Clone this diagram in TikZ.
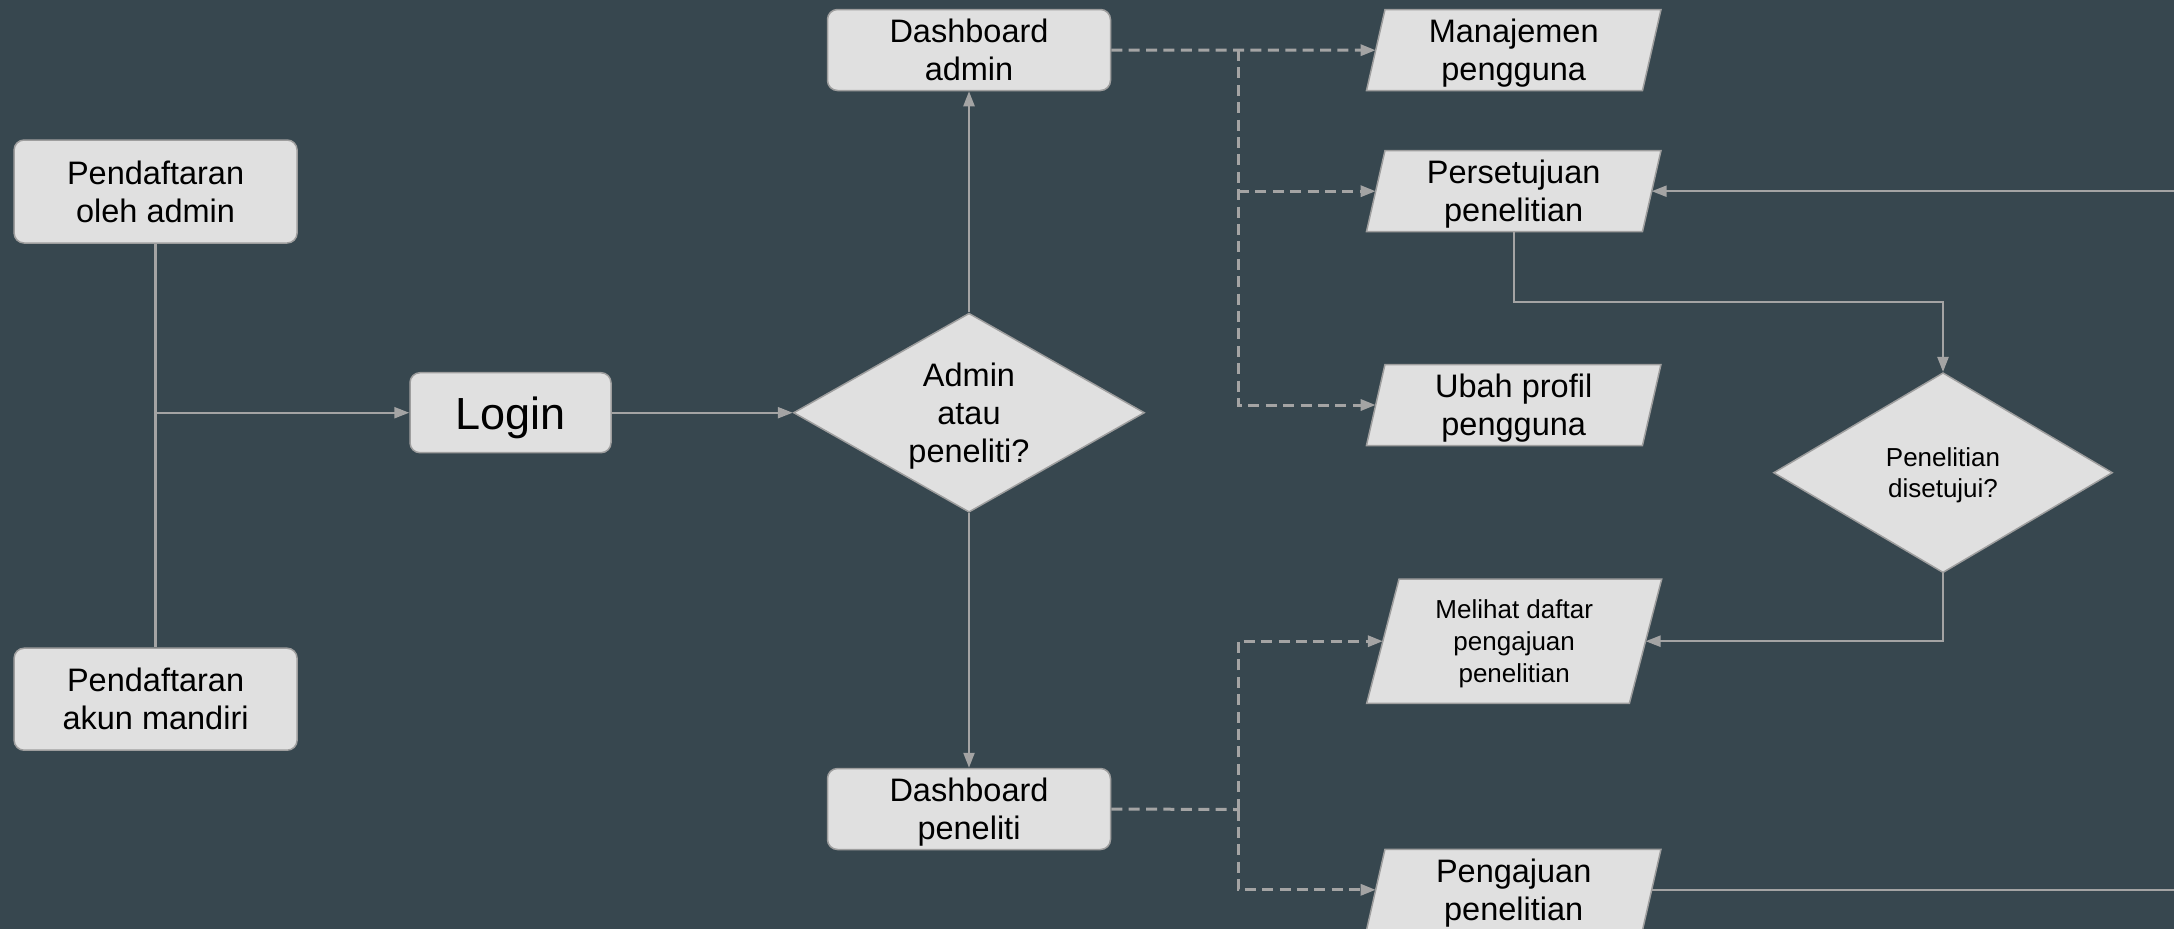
\documentclass[tikz,border=0pt]{standalone}
\usepackage{fontspec}
\setmainfont{Liberation Sans}
\usetikzlibrary{shapes.geometric,arrows.meta,calc}
\pgfdeclarelayer{back}
\pgfdeclarelayer{shapes}
\pgfsetlayers{back,shapes,main}
\definecolor{bgc}{HTML}{37474F}
\definecolor{nodefill}{HTML}{E0E0E0}
\definecolor{nodeline}{HTML}{9E9E9E}
\definecolor{linec}{HTML}{A4A4A4}
\newcommand\nodep[1]{\raisebox{0pt}[\height][0pt]{#1}}
\begin{document}
\begin{tikzpicture}[x=0.5pt,y=-0.5pt,
  txt/.style={font=\fontsize{16.25}{19}\selectfont, align=center, text=black, inner sep=0pt},
  smalltxt/.style={font=\fontsize{13}{15.85}\selectfont},
  rbox/.style={txt, draw=nodeline, fill=nodefill, line width=0.75pt, rounded corners=5pt,
               minimum width=141.5pt, minimum height=40.5pt},
  dia/.style={diamond, draw=nodeline, fill=nodefill, line width=0.75pt, inner sep=0pt},
  para/.style={txt, outer sep=0pt, minimum width=138pt, minimum height=40.5pt},
  parabox/.style={draw=nodeline, fill=nodefill, line width=0.75pt},
  conn/.style={draw=linec, line width=1.15pt},
  arr/.style={conn, -{Triangle[length=7.5pt,width=5.5pt]}},
  dashline/.style={draw=linec, line width=1.5pt, dash pattern=on 5.5pt off 3.2pt},
  darr/.style={dashline, -{Triangle[length=7.5pt,width=5.5pt]}}
]
\useasboundingbox (0,0) rectangle (2174,928);
\begin{pgfonlayer}{back}
  \fill[bgc] (-10,-10) rectangle (2184,938);
\end{pgfonlayer}

% nodes
\node[rbox, minimum height=51.5pt] (pA) at (155.6,191.5) {Pendaftaran\\\nodep{oleh admin}};
\node[rbox, minimum height=51pt] (pM) at (155.6,699.2) {Pendaftaran\\\nodep{akun mandiri}};
\node[rbox, minimum width=100.5pt, minimum height=40pt, font=\fontsize{22.5}{27}\selectfont] (login) at (510.5,412.7) {\nodep{Login}};
\node[dia, minimum width=175.5pt, minimum height=99.5pt] (q1) at (969,412.7) {};
\node[txt] (q1t) at (q1) {Admin\\atau\\\nodep{peneliti?}};
\node[rbox] (dA) at (969,50) {Dashboard\\\nodep{admin}};
\node[rbox] (dP) at (969,809) {Dashboard\\\nodep{peneliti}};
\node[para] (man) at (1513.7,50.2) {Manajemen\\\nodep{pengguna}};
\node[para] (pers) at (1513.7,191.2) {Persetujuan\\\nodep{penelitian}};
\node[para] (ubah) at (1513.7,405) {Ubah profil\\\nodep{pengguna}};
\node[para, smalltxt, minimum width=131.35pt, minimum height=62.15pt] (mel) at (1514.2,641.2) {Melihat daftar\\pengajuan\\\nodep{penelitian}};
\node[para] (peng) at (1513.7,889.8) {Pengajuan\\\nodep{penelitian}};
\node[dia, minimum width=169.5pt, minimum height=100pt] (q2) at (1943,472.7) {};
\node[txt, smalltxt] (q2t) at (q2) {Penelitian\\\nodep{disetujui?}};

\begin{pgfonlayer}{shapes}
\foreach \n/\s in {man/4.625pt,pers/4.625pt,ubah/4.625pt,mel/8.08pt,peng/4.625pt}{
  \draw[parabox] ([xshift=\s]\n.north west) -- ([xshift=\s]\n.north east)
     -- ([xshift=-\s]\n.south east) -- ([xshift=-\s]\n.south west) -- cycle;
}
\end{pgfonlayer}

% connectors
\draw[conn] (pA.south) -- (pM.north);
\draw[arr] (pA.south |- login.west) -- (login.west);
\draw[arr] (login.east) -- (q1.west);
\draw[arr] (q1.north) -- (dA.south);
\draw[arr] (q1.south) -- (dP.north);

\coordinate (j1) at (1238,50);
\draw[darr] (dA.east) -- (man.west);
\draw[darr] (j1) |- (ubah.west);
\draw[darr] (j1 |- pers.west) -- (pers.west);

\coordinate (j2) at (1238,809.5);
\draw[dashline] (dP.east) -- (j2);
\draw[darr] (j2) |- (mel.west);
\draw[darr] (j2) |- (peng.west);

\coordinate (c1) at (1943,302.3);
\draw[arr] (pers.south) |- (c1) -- (q2.north);
\draw[arr] (q2.south) |- (mel.east);

\coordinate (r1) at (2174,889.8);
\draw[conn] (peng.east) -- (r1);
\coordinate (r2) at (2174,191.2);
\draw[arr] (r2) -- (pers.east);
\end{tikzpicture}
\end{document}
